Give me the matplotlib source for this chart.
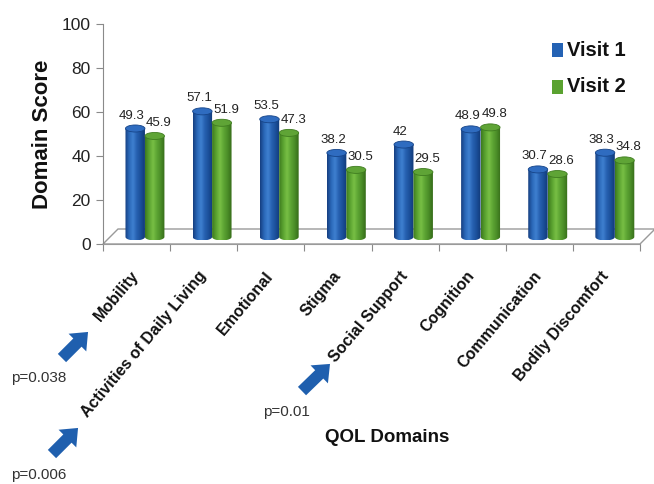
import numpy as np
import matplotlib
matplotlib.use('Agg')
import matplotlib.pyplot as plt
from matplotlib.patches import Polygon, Ellipse, PathPatch, FancyArrowPatch, Rectangle, ArrowStyle
from matplotlib.path import Path
from matplotlib.colors import LinearSegmentedColormap

# ---------------- data ----------------
categories = ['Mobility', 'Activities of Daily Living', 'Emotional', 'Stigma',
              'Social Support', 'Cognition', 'Communication', 'Bodily Discomfort']
visit1 = [49.3, 57.1, 53.5, 38.2, 42, 48.9, 30.7, 38.3]
visit2 = [45.9, 51.9, 47.3, 30.5, 29.5, 49.8, 28.6, 34.8]
visit1_labels = ['49.3', '57.1', '53.5', '38.2', '42', '48.9', '30.7', '38.3']
visit2_labels = ['45.9', '51.9', '47.3', '30.5', '29.5', '49.8', '28.6', '34.8']
series_names = ['Visit 1', 'Visit 2']
yticks = [0, 20, 40, 60, 80, 100]
pvalue_labels = ['p=0.038', 'p=0.006', 'p=0.01']

# ---------------- style ----------------
plt.rcParams['font.family'] = ['Liberation Sans', 'DejaVu Sans']

W, H = 654, 484
fig = plt.figure(figsize=(W / 100, H / 100), dpi=100)
ax = fig.add_axes([103 / W, 1 - 244 / H, (640 - 103) / W, 220 / H])
ax.set_xlim(0, 8)
ax.set_ylim(0, 100)

px_x = (640 - 103) / 8.0   # pixels per x unit
px_y = 220 / 100.0         # pixels per y unit

blue_cols = ['#153f80', '#2a67b8', '#3f80d0', '#2660b0', '#1a4e98', '#123a78']
green_cols = ['#3d7a1e', '#5aa230', '#78bf45', '#5ca433', '#4a8c27', '#356c19']
cmaps = [LinearSegmentedColormap.from_list('b', blue_cols),
         LinearSegmentedColormap.from_list('g', green_cols)]
top_cols = ['#2f6cc0', '#5fa436']

# floor
depth_x = 15 / px_x
depth_y = 15 / px_y
floor = Polygon([(0, 0), (8, 0), (8 + depth_x, depth_y), (depth_x, depth_y)],
                closed=True, facecolor='white', edgecolor='#9a9a9a', lw=1.0,
                zorder=1, clip_on=False)
ax.add_patch(floor)

base = 3.2
bw = 0.29
eh = 3.2  # ellipse height in data units
offsets = [0.48, 0.77]
label_dx = [-2.5, 3.0]
grad = np.linspace(0, 1, 64).reshape(1, -1)

for s, (vals, labs) in enumerate(zip([visit1, visit2], [visit1_labels, visit2_labels])):
    for i, v in enumerate(vals):
        xc = i + offsets[s]
        x0, x1 = xc - bw / 2, xc + bw / 2
        top = base + v
        theta = np.linspace(np.pi, 2 * np.pi, 30)
        bx = xc + bw / 2 * np.cos(theta)
        by = base + eh / 2 * np.sin(theta)
        verts = [(x0, top)] + list(zip(bx, by)) + [(x1, top), (x0, top)]
        path = Path(verts)
        body = PathPatch(path, facecolor='none', edgecolor='none', zorder=3)
        ax.add_patch(body)
        im = ax.imshow(grad, cmap=cmaps[s], extent=(x0, x1, base - eh / 2, top),
                       aspect='auto', zorder=3, interpolation='bilinear')
        im.set_clip_path(body)
        cap = Ellipse((xc, top), bw, eh, facecolor=top_cols[s],
                      edgecolor=cmaps[s](0.9), lw=0.6, zorder=4)
        ax.add_patch(cap)
        ax.annotate(labs[i], (xc, top + eh / 2), xytext=(label_dx[s], 2.5),
                    textcoords='offset points', ha='center', va='bottom',
                    fontsize=9.5, color='#222222', zorder=5)

ax.set_xlim(0, 8)
ax.set_ylim(0, 100)

# axes styling
for sp in ['top', 'right']:
    ax.spines[sp].set_visible(False)
ax.spines['left'].set_color('#8a8a8a')
ax.spines['bottom'].set_color('#9a9a9a')
ax.set_yticks(yticks)
ax.set_yticklabels([str(t) for t in yticks], fontsize=12.5, color='#222222')
ax.set_xticks(range(9))
ax.set_xticklabels([''] * 9)
ax.tick_params(axis='y', length=5, color='#8a8a8a', pad=4)
ax.tick_params(axis='x', length=5, color='#8a8a8a', direction='out')

for i, c in enumerate(categories):
    ax.annotate(c, (i + 0.5, 0), xytext=(0, -21), textcoords='offset points',
                rotation=50, rotation_mode='anchor', ha='right', va='center',
                fontsize=11.5, fontweight='bold', color='#111111')

ax.set_ylabel('Domain Score', fontsize=16, fontweight='bold', color='#111111', labelpad=6)
fig.text(387 / W, 1 - 437 / H, 'QOL Domains', ha='center', va='center',
         fontsize=13.5, fontweight='bold', color='#111111')

# legend (manual)
leg_colors = ['#2462b4', '#5aa230']
for k, (name, col) in enumerate(zip(series_names, leg_colors)):
    yc = 50 + 37 * k
    fig.patches.append(Rectangle((552 / W, 1 - (yc + 7) / H), 11 / W, 14 / H,
                                 transform=fig.transFigure, facecolor=col, edgecolor='none'))
    fig.text(567 / W, 1 - yc / H, name, ha='left', va='center', fontsize=14.5,
             fontweight='bold', color='#111111')

# significance arrows
arrow_col = '#1f5fae'
arrows = [((60, 360), (90, 330)), ((50, 456), (80, 426)), ((300, 393), (332, 362))]
ptext_pos = [(11, 378), (11, 475), (263, 412)]
for (p0, p1), lab, tp in zip(arrows, pvalue_labels, ptext_pos):
    a = FancyArrowPatch((p0[0] / W, 1 - p0[1] / H), (p1[0] / W, 1 - p1[1] / H),
                        transform=fig.transFigure,
                        arrowstyle=ArrowStyle.Simple(head_length=0.9, head_width=1.5, tail_width=0.7),
                        mutation_scale=12, color=arrow_col, lw=0)
    fig.patches.append(a)
    fig.text(tp[0] / W, 1 - tp[1] / H, lab, ha='left', va='center', fontsize=11,
             color='#333333')

fig.savefig('out.png', dpi=100)
